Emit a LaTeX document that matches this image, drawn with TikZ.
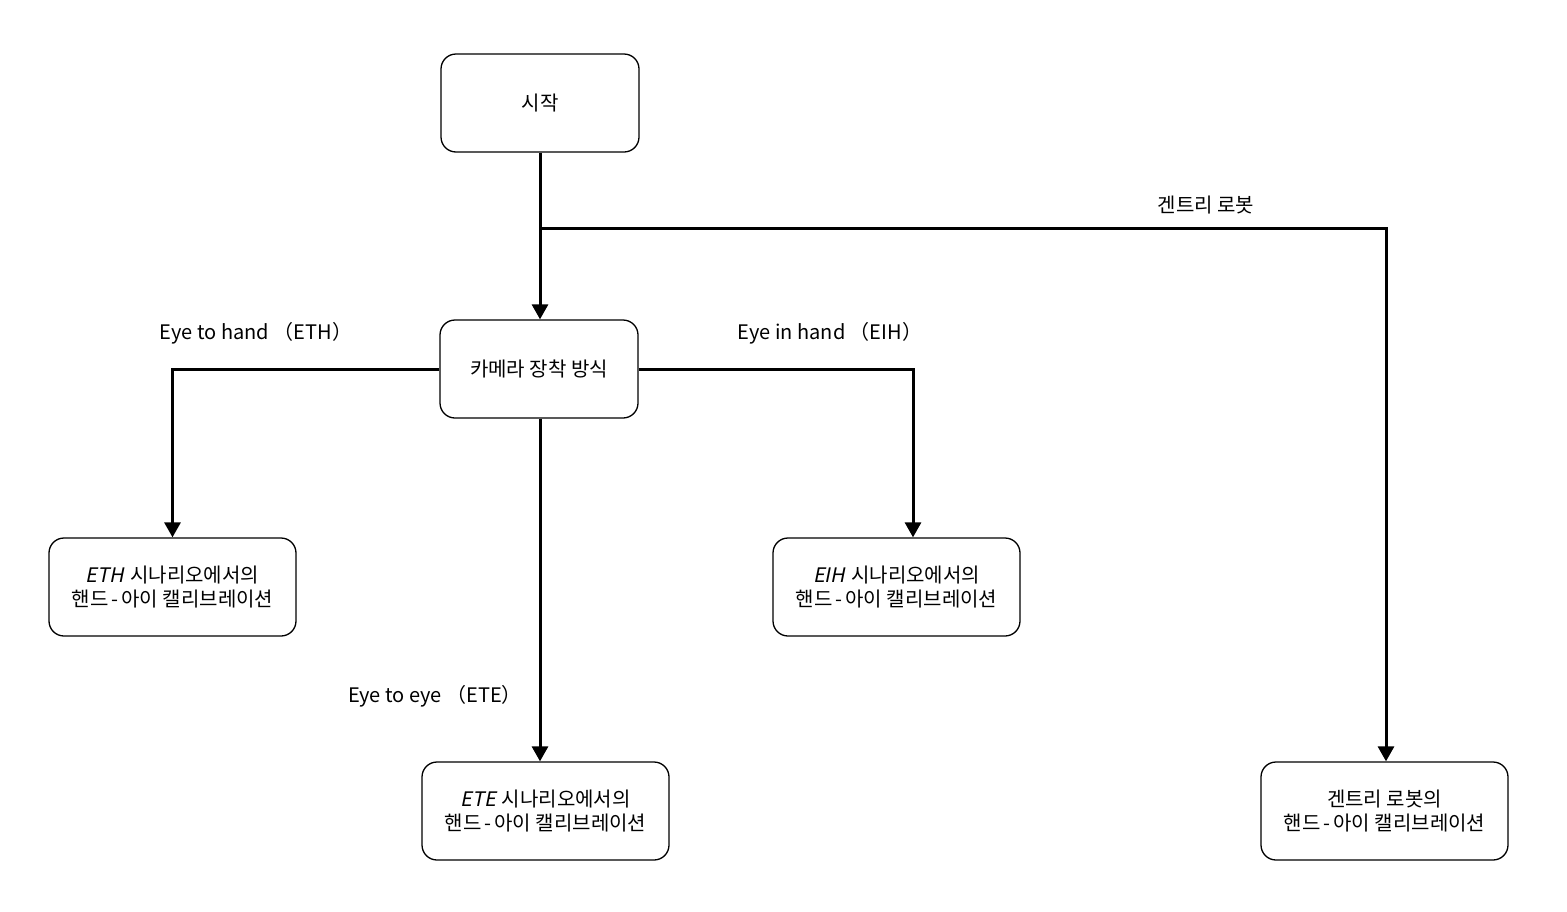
\documentclass[tikz,border=0pt]{standalone}
\usepackage{fontspec}
\setmainfont{Noto Sans CJK KR}[ItalicFont=Noto Sans CJK KR, ItalicFeatures={FakeSlant=0.2}]
\usetikzlibrary{positioning, arrows.meta, calc}
\tikzset{
	box/.style={draw, rounded corners=15pt, line width=1.3pt, minimum width=247pt, minimum height=98pt, inner sep=0pt, align=center, font=\fontsize{20}{24}\selectfont},
	smallbox/.style={box, minimum width=198pt},
	conn/.style={line width=3pt, -{Triangle[width=16pt, length=15pt]}},
	lbl/.style={font=\fontsize{20}{24}\selectfont, inner sep=0pt}
}
\newcommand{\hecal}{핸드\kern3pt-\kern3pt아이 캘리브레이션}

\begin{document}
\begin{tikzpicture}[x=1pt, y=-1pt]
		\useasboundingbox (0,0) rectangle (1567,911);
		\node[smallbox] (start) at (540,103) {시작};
		\node[smallbox] (mount) at (539,369) {카메라 장착 방식};
		\node[box] (eth) at (172.5,587) {\textit{ETH}\kern6pt 시나리오에서의\\\hecal};
		\node[box] (eih) at (896.5,587) {\textit{EIH}\kern6pt 시나리오에서의\\\hecal};
		\node[box] (ete) at (545.5,811) {\textit{ETE}\kern6pt 시나리오에서의\\\hecal};
		\node[box] (gantry) at (1384.5,811) {겐트리 로봇의\\\hecal};
		\coordinate (split) at (540,228);
		\draw[conn] (start.south) -- (start.south |- mount.north);
		\draw[conn] (split) -| ([xshift=1.5pt]gantry.north);
		\draw[conn] (mount.west) -| (eth.north);
		\draw[conn] (mount.east) -| ([xshift=16.5pt]eih.north);
		\draw[conn] ([xshift=1pt]mount.south) -- ([xshift=1pt]mount.south |- ete.north);
		\node[lbl] (lgantry) at (1206,205) {겐트리 로봇};
		\node[lbl] (leth) at (256,333) {Eye to hand （ETH）};
		\node[lbl] (leih) at (830,333) {Eye in hand （EIH）};
		\node[lbl] (lete) at (435,696) {Eye to eye （ETE）};
	\end{tikzpicture}
\end{document}
